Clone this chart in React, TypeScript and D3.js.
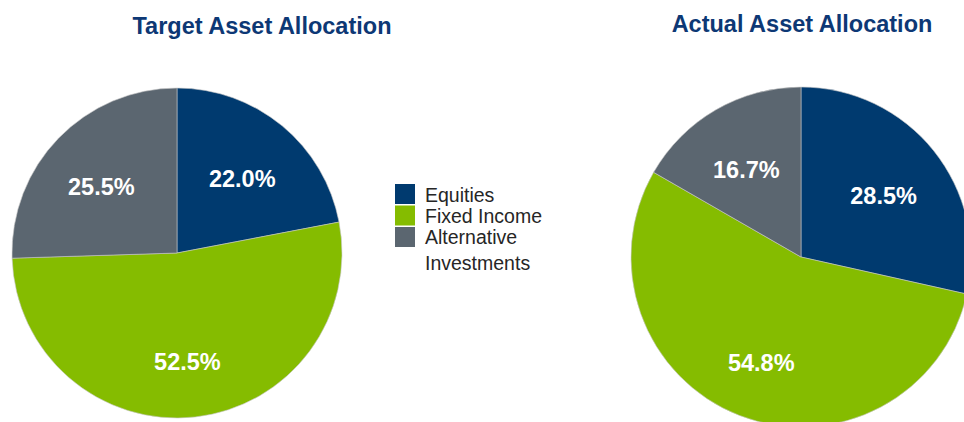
import React from "react";
import * as d3 from "d3";

const categories = ["Equities", "Fixed Income", "Alternative Investments"];
const targetValues = [22.0, 52.5, 25.5];
const actualValues = [28.5, 54.8, 16.7];
const colors = ["#003a6f", "#85bc00", "#5b6670"];
const titles = ["Target Asset Allocation", "Actual Asset Allocation"];

const W = 964;
const H = 422;
const FONT = "Liberation Sans, Arial, sans-serif";

function Pie({ values, cx, cy, r, title, tx, ty }: { values: number[]; cx: number; cy: number; r: number; title: string; tx: number; ty: number }) {
  const pie = d3.pie<number>().sort(null).value((d) => d);
  const arcs = pie(values);
  const arc = d3.arc<d3.PieArcDatum<number>>().innerRadius(0).outerRadius(r);
  const labelArc = d3.arc<d3.PieArcDatum<number>>().innerRadius(r * 0.63).outerRadius(r * 0.63);
  return (
    <g>
      <text x={tx} y={ty} textAnchor="middle" fontFamily={FONT} fontWeight="bold" fontSize={23.5} fill="#0d3875">
        {title}
      </text>
      <g transform={`translate(${cx},${cy})`}>
        {arcs.map((a, i) => (
          <path key={i} d={arc(a) || ""} fill={colors[i]} stroke="#c8c8c8" strokeWidth={0.6} />
        ))}
        {arcs.map((a, i) => {
          const [x, y] = labelArc.centroid(a);
          return (
            <text key={"t" + i} x={x - 1} y={y + 5.5} dy="0.36em" textAnchor="middle" fontFamily={FONT} fontWeight="bold" fontSize={23.5} fill="#ffffff">
              {values[i].toFixed(1) + "%"}
            </text>
          );
        })}
      </g>
    </g>
  );
}

export default function App() {
  const legendLines = [["Equities"], ["Fixed Income"], ["Alternative", "Investments"]];
  const baselines = [201.5, 222.7, 244];
  return (
    <svg width={W} height={H} style={{ position: "absolute", left: 0, top: 0, background: "#ffffff" }}>
      <rect width={W} height={H} fill="#ffffff" />
      <Pie values={targetValues} cx={177} cy={253} r={165} title={titles[0]} tx={262} ty={34} />
      <Pie values={actualValues} cx={801} cy={257} r={170} title={titles[1]} tx={802} ty={32} />
      <g fontFamily={FONT} fontSize={19.5} fill="#262626">
        {categories.map((c, i) => (
          <g key={c}>
            <rect x={395} y={184 + i * 21.5} width={20} height={20} fill={colors[i]} />
            {legendLines[i].map((ln, j) => (
              <text key={j} x={425} y={baselines[i] + j * 26}>
                {ln}
              </text>
            ))}
          </g>
        ))}
      </g>
    </svg>
  );
}
